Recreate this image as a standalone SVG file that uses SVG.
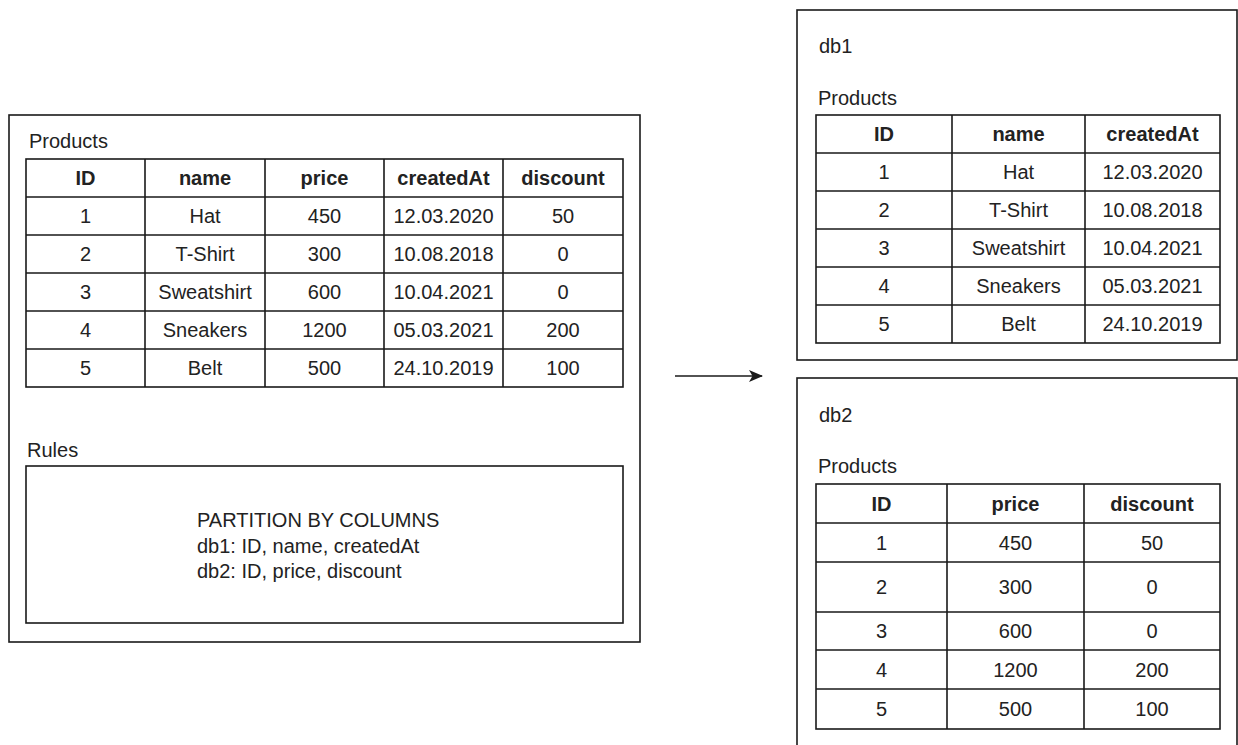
<svg xmlns="http://www.w3.org/2000/svg" width="1238" height="745" viewBox="0 0 1238 745">
  <style>
    .box { fill: #ffffff; stroke: #1a1a1a; stroke-width: 1.6; }
    .grid { fill: none; stroke: #1a1a1a; stroke-width: 1.6; }
    text { font-family: "Liberation Sans", Arial, sans-serif; font-size: 20px; fill: #222222; }
    .c { text-anchor: middle; }
    .h { font-weight: bold; }
    .edge { fill: none; stroke: #1a1a1a; stroke-width: 1.6; }
  </style>
  <defs>
    <marker id="arrow" markerWidth="14" markerHeight="12" refX="13" refY="6" orient="auto" markerUnits="userSpaceOnUse">
      <path d="M0,0 L14,6 L0,12 L3.5,6 Z" fill="#1a1a1a"/>
    </marker>
  </defs>

  <rect width="1238" height="745" fill="#ffffff"/>

  <!-- Source database: full Products table plus partition rules -->
  <g id="source">
    <rect class="box" x="9" y="115" width="631" height="527"/>
    <text x="29" y="148">Products</text>
    <g id="source-table">
      <rect class="grid" x="26" y="159" width="597" height="228"/>
      <path class="grid" d="M145,159V387 M265,159V387 M384,159V387 M503,159V387
                            M26,197H623 M26,235H623 M26,273H623 M26,311H623 M26,349H623"/>
      <g class="h">
        <text class="c" x="85.5" y="185">ID</text>
        <text class="c" x="205" y="185">name</text>
        <text class="c" x="324.5" y="185">price</text>
        <text class="c" x="443.5" y="185">createdAt</text>
        <text class="c" x="563" y="185">discount</text>
      </g>
      <text class="c" x="85.5" y="223">1</text>
      <text class="c" x="205" y="223">Hat</text>
      <text class="c" x="324.5" y="223">450</text>
      <text class="c" x="443.5" y="223">12.03.2020</text>
      <text class="c" x="563" y="223">50</text>
      <text class="c" x="85.5" y="261">2</text>
      <text class="c" x="205" y="261">T-Shirt</text>
      <text class="c" x="324.5" y="261">300</text>
      <text class="c" x="443.5" y="261">10.08.2018</text>
      <text class="c" x="563" y="261">0</text>
      <text class="c" x="85.5" y="299">3</text>
      <text class="c" x="205" y="299">Sweatshirt</text>
      <text class="c" x="324.5" y="299">600</text>
      <text class="c" x="443.5" y="299">10.04.2021</text>
      <text class="c" x="563" y="299">0</text>
      <text class="c" x="85.5" y="337">4</text>
      <text class="c" x="205" y="337">Sneakers</text>
      <text class="c" x="324.5" y="337">1200</text>
      <text class="c" x="443.5" y="337">05.03.2021</text>
      <text class="c" x="563" y="337">200</text>
      <text class="c" x="85.5" y="375">5</text>
      <text class="c" x="205" y="375">Belt</text>
      <text class="c" x="324.5" y="375">500</text>
      <text class="c" x="443.5" y="375">24.10.2019</text>
      <text class="c" x="563" y="375">100</text>
    </g>
    <text x="27" y="457">Rules</text>
  </g>

  <g id="rules">
    <rect class="box" x="26" y="466" width="597" height="157"/>
    <text x="197" y="527">PARTITION BY COLUMNS</text>
    <text x="197" y="552.5">db1: ID, name, createdAt</text>
    <text x="197" y="578">db2: ID, price, discount</text>
  </g>

  <!-- Shard db1 -->
  <g id="db1">
    <rect class="box" x="797" y="10" width="440" height="350"/>
    <text x="819" y="53">db1</text>
    <text x="818" y="105">Products</text>
    <rect class="grid" x="816" y="115" width="404" height="228"/>
    <path class="grid" d="M952,115V343 M1085,115V343
                          M816,153H1220 M816,191H1220 M816,229H1220 M816,267H1220 M816,305H1220"/>
    <g class="h">
      <text class="c" x="884" y="141">ID</text>
      <text class="c" x="1018.5" y="141">name</text>
      <text class="c" x="1152.5" y="141">createdAt</text>
    </g>
    <text class="c" x="884" y="179">1</text>
    <text class="c" x="1018.5" y="179">Hat</text>
    <text class="c" x="1152.5" y="179">12.03.2020</text>
    <text class="c" x="884" y="217">2</text>
    <text class="c" x="1018.5" y="217">T-Shirt</text>
    <text class="c" x="1152.5" y="217">10.08.2018</text>
    <text class="c" x="884" y="255">3</text>
    <text class="c" x="1018.5" y="255">Sweatshirt</text>
    <text class="c" x="1152.5" y="255">10.04.2021</text>
    <text class="c" x="884" y="293">4</text>
    <text class="c" x="1018.5" y="293">Sneakers</text>
    <text class="c" x="1152.5" y="293">05.03.2021</text>
    <text class="c" x="884" y="331">5</text>
    <text class="c" x="1018.5" y="331">Belt</text>
    <text class="c" x="1152.5" y="331">24.10.2019</text>
  </g>

  <!-- Shard db2 -->
  <g id="db2">
    <rect class="box" x="797" y="378" width="440" height="380"/>
    <text x="819" y="422">db2</text>
    <text x="818" y="473">Products</text>
    <rect class="grid" x="816" y="484" width="404" height="245"/>
    <path class="grid" d="M947,484V729 M1084,484V729
                          M816,523H1220 M816,562H1220 M816,612H1220 M816,650H1220 M816,689H1220"/>
    <g class="h">
      <text class="c" x="881.5" y="510.5">ID</text>
      <text class="c" x="1015.5" y="510.5">price</text>
      <text class="c" x="1152" y="510.5">discount</text>
    </g>
    <text class="c" x="881.5" y="549.5">1</text>
    <text class="c" x="1015.5" y="549.5">450</text>
    <text class="c" x="1152" y="549.5">50</text>
    <text class="c" x="881.5" y="594">2</text>
    <text class="c" x="1015.5" y="594">300</text>
    <text class="c" x="1152" y="594">0</text>
    <text class="c" x="881.5" y="638">3</text>
    <text class="c" x="1015.5" y="638">600</text>
    <text class="c" x="1152" y="638">0</text>
    <text class="c" x="881.5" y="676.5">4</text>
    <text class="c" x="1015.5" y="676.5">1200</text>
    <text class="c" x="1152" y="676.5">200</text>
    <text class="c" x="881.5" y="716">5</text>
    <text class="c" x="1015.5" y="716">500</text>
    <text class="c" x="1152" y="716">100</text>
  </g>

  <g id="connectors">
    <path class="edge" d="M675,376H762" marker-end="url(#arrow)"/>
  </g>
</svg>
